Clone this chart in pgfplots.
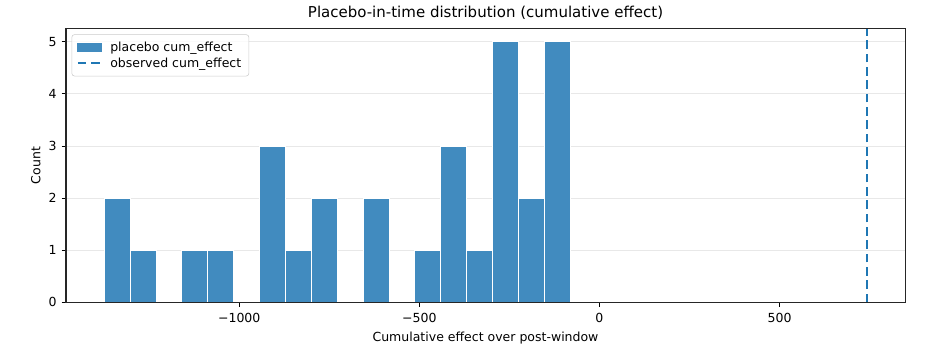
\documentclass[border=0pt]{standalone}
\usepackage{fontspec}
\setmainfont{DejaVu Sans}
\usepackage{pgfplots}
\pgfplotsset{compat=1.18}
\definecolor{barcol}{RGB}{65,139,191}
\definecolor{obscol}{RGB}{31,119,180}
\begin{document}
\begin{tikzpicture}
\begin{axis}[
  name=ax,
  scale only axis,
  width=604pt, height=197pt,
  xmin=-1481, xmax=848.4,
  ymin=0, ymax=5.25,
  xtick={-1000,-500,0,500},
  xticklabels={−1000,−500,0,500},
  ytick={0,1,2,3,4,5},
  /pgf/number format/assume math mode=true,
  tick align=outside,
  xtick pos=bottom, ytick pos=left,
  major tick length=3.2pt,
  every tick/.style={black, line width=0.75pt},
  axis line style={line width=0.75pt, black!85},
  ymajorgrids,
  grid style={line width=0.75pt, black!9},
  tick label style={font=\fontsize{9}{11}\selectfont},
  xticklabel style={yshift=-1pt},
  label style={font=\fontsize{9}{11}\selectfont},
  ylabel style={yshift=-1pt},
  xlabel={Cumulative effect over post-window},
  ylabel={Count},
  title={Placebo-in-time distribution (cumulative effect)},
  title style={font=\fontsize{10.8}{13}\selectfont, yshift=-3pt},
  legend cell align=left,
  legend style={at={(0,1)}, anchor=north west, xshift=4pt, yshift=-4pt,
    draw=black!20, rounded corners=2pt, fill=white, fill opacity=0.8, text opacity=1,
    font=\fontsize{9}{11}\selectfont, inner xsep=3.5pt, inner ysep=3pt, row sep=-0.8pt},
]
\addplot[ybar, bar width=71.87, bar shift=0pt, fill=barcol, draw=white, line width=0.5pt,
  legend image code/.code={\fill[barcol, sharp corners, fill opacity=1] (0pt,-2.75pt) rectangle (17pt,2.75pt); \path (20.6pt,0pt);}]
  coordinates {
  (-1339.1,2) (-1267.2,1) (-1123.5,1) (-1051.6,1)
  (-907.8,3) (-836.0,1) (-764.1,2) (-620.4,2)
  (-476.7,1) (-404.8,3) (-332.9,1) (-261.1,5) (-189.2,2) (-117.3,5)
  };
\addlegendentry{placebo cum\_effect}
\addplot[obscol, line width=1.6pt, dash pattern=on 6.2pt off 3.4pt,
  legend image code/.code={\draw[obscol, sharp corners, draw opacity=1, line width=1.6pt, dash pattern=on 6.2pt off 3.4pt] (0pt,0pt) -- (17pt,0pt); \path (20.6pt,0pt);}]
  coordinates {(742.5,0) (742.5,5.25)};
\addlegendentry{observed cum\_effect}
\draw[line width=0.75pt, black!85] (rel axis cs:0,0) -- (rel axis cs:1,0);
\end{axis}
\path ([shift={(-47.5pt,-34.3pt)}]ax.south west) rectangle ([shift={(15.8pt,20.7pt)}]ax.north east);
\end{tikzpicture}
\end{document}
